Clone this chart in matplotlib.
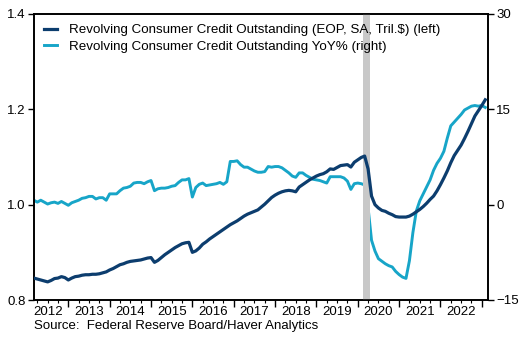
import matplotlib
matplotlib.use("Agg")
import matplotlib.pyplot as plt
import numpy as np
from matplotlib.ticker import FixedLocator, FuncFormatter

plt.rcParams['font.family'] = ['Liberation Sans', 'DejaVu Sans']

# Monthly data, Mar 2012 .. Feb 2023
start_year = 2012
start_month_index = 2  # March 2012 (0 = Jan 2012)

level = [
    0.846, 0.844, 0.842, 0.840, 0.838, 0.841, 0.845, 0.846, 0.849, 0.847,
    0.842, 0.846, 0.849, 0.850, 0.852, 0.853, 0.853, 0.854, 0.854, 0.855, 0.857, 0.859,
    0.863, 0.866, 0.870, 0.874, 0.876, 0.879, 0.881, 0.882, 0.883, 0.884, 0.886, 0.888,
    0.889, 0.879, 0.883, 0.889, 0.895, 0.900, 0.905, 0.910, 0.914, 0.918, 0.920, 0.921,
    0.900, 0.903, 0.909, 0.917, 0.922, 0.928, 0.933, 0.938, 0.943, 0.948, 0.953, 0.958,
    0.962, 0.966, 0.971, 0.976, 0.980, 0.983, 0.986, 0.989, 0.995, 1.001, 1.008, 1.015,
    1.020, 1.024, 1.027, 1.029, 1.030, 1.029, 1.027, 1.037, 1.042, 1.047, 1.052, 1.056,
    1.060, 1.063, 1.065, 1.069, 1.075, 1.074, 1.078, 1.082, 1.083, 1.084, 1.079, 1.089,
    1.094, 1.099, 1.102, 1.075, 1.018, 1.000, 0.993, 0.988, 0.986, 0.982, 0.979, 0.975,
    0.974, 0.974, 0.974, 0.976, 0.980, 0.985, 0.990, 0.996, 1.003, 1.011, 1.018, 1.029,
    1.042, 1.056, 1.071, 1.088, 1.103, 1.114, 1.125, 1.139, 1.154, 1.170, 1.186, 1.197,
    1.208, 1.220,
]

yoy = [
    0.7, 0.4, 0.7, 0.4, 0.1, 0.3, 0.4, 0.2, 0.5, 0.2,
    -0.1, 0.3, 0.5, 0.7, 1.0, 1.1, 1.3, 1.3, 0.9, 1.1, 1.1, 0.7,
    1.7, 1.7, 1.7, 2.2, 2.6, 2.7, 2.9, 3.4, 3.5, 3.5, 3.3, 3.6,
    3.8, 2.2, 2.5, 2.6, 2.6, 2.7, 2.9, 3.0, 3.5, 3.9, 3.9, 4.1,
    1.2, 2.7, 3.2, 3.4, 3.0, 3.1, 3.2, 3.3, 3.5, 3.2, 3.6, 6.8,
    6.8, 6.9, 6.3, 5.9, 5.9, 5.6, 5.3, 5.1, 5.1, 5.2, 6.0, 5.9,
    6.0, 6.0, 5.8, 5.4, 5.0, 4.5, 4.3, 5.0, 5.0, 4.6, 4.3, 4.0,
    3.9, 3.8, 3.6, 3.4, 4.4, 4.4, 4.4, 4.4, 4.2, 3.7, 2.4, 3.3,
    3.4, 3.3, 3.1, -0.5, -5.6, -7.3, -8.5, -8.9, -9.3, -9.6, -9.8, -10.5,
    -11.0, -11.4, -11.6, -8.8, -4.4, -1.0, 0.6, 1.7, 2.8, 3.9, 5.4, 6.5,
    7.3, 8.4, 10.5, 12.4, 13.0, 13.6, 14.2, 14.9, 15.2, 15.5, 15.6, 15.5,
    15.6, 15.3,
]

years = list(range(2012, 2023))
recession = (2020 + 1.6 / 12, 2020 + 3.5 / 12)

label_level = "Revolving Consumer Credit Outstanding (EOP, SA, Tril.$) (left)"
label_yoy = "Revolving Consumer Credit Outstanding YoY% (right)"
source = "Source:  Federal Reserve Board/Haver Analytics"

dark = "#0c3d6e"
light = "#17a5c8"

x = start_year + (start_month_index + np.arange(len(level))) / 12.0

fig = plt.figure(figsize=(5.24, 3.48), dpi=100)
ax = fig.add_axes([34 / 524, 48 / 348, (488 - 34) / 524, (300 - 14) / 348])
ax2 = ax.twinx()

ax.axvspan(recession[0], recession[1], color="#c8c8c8", lw=0, zorder=0)
l1, = ax.plot(x, level, color=dark, lw=2.3, label=label_level, zorder=3)
l2, = ax2.plot(x, yoy, color=light, lw=2.1, label=label_yoy)

ax.set_xlim(2012.17, 2023.15)
ax.set_ylim(0.8, 1.4)
ax2.set_ylim(-15, 30)

ax.set_yticks([0.8, 1.0, 1.2, 1.4])
ax.yaxis.set_major_formatter(FuncFormatter(lambda v, p: f"{v:.1f}"))
ax2.set_yticks([-15, 0, 15, 30])

major = [y + 1 for y in years]
minor = []
for y in [2011] + years:
    for q in (3, 6, 9):
        minor.append(y + q / 12)
ax.xaxis.set_major_locator(FixedLocator(major))
ax.xaxis.set_major_formatter(FuncFormatter(lambda v, p: ""))
ax.xaxis.set_minor_locator(FixedLocator(minor))

def minor_fmt(v, p):
    frac = v - np.floor(v + 1e-6)
    if abs(frac - 0.5) < 0.01:
        return str(int(np.floor(v)))
    return ""

ax.xaxis.set_minor_formatter(FuncFormatter(minor_fmt))

ax.tick_params(axis="x", which="major", length=5, width=1, direction="out", labelsize=9.5)
ax.tick_params(axis="x", which="minor", length=2.5, width=0.8, direction="out", labelsize=9.5, pad=2)
ax.tick_params(axis="y", length=4, width=1, direction="out", labelsize=9.5, pad=2)
ax2.tick_params(axis="y", length=4, width=1, direction="out", labelsize=9.5, pad=2)

for a in (ax, ax2):
    for s in a.spines.values():
        s.set_linewidth(1.2)
        s.set_color("black")

ax.set_zorder(ax2.get_zorder() + 1)
ax.patch.set_visible(False)

leg = ax.legend(handles=[l1, l2], loc="upper left", frameon=False, fontsize=9.6,
                handlelength=1.0, handletextpad=0.9, borderaxespad=0.4,
                labelspacing=0.3, borderpad=0.35)

fig.text(34 / 524, 1 - 326 / 348, source, fontsize=9.5, va="center", ha="left")

fig.savefig("out.png", dpi=100)
